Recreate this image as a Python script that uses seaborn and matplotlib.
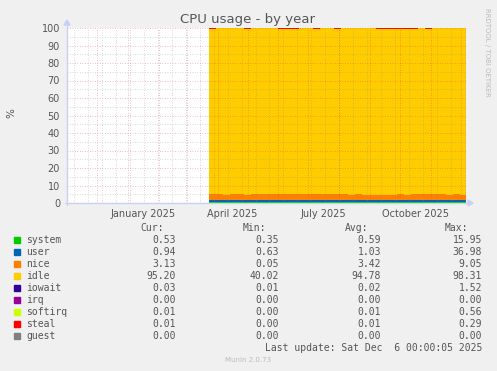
import numpy as np
import pandas as pd
import matplotlib
matplotlib.use("Agg")
import matplotlib.pyplot as plt
from matplotlib.patches import Rectangle
import seaborn as sns

# ---------------- data ----------------
week_starts = pd.date_range("2025-03-23", periods=37, freq="7D")
end_date = pd.Timestamp("2025-12-06")

system = [0.6,0.5,0.5,0.6,0.5,0.5,0.6,0.5,0.5,0.6,0.5,0.5,0.6,0.5,0.5,0.6,0.5,0.5,0.6,0.5,
          0.5,0.6,0.5,0.5,0.6,0.5,0.5,0.6,0.5,0.8,0.5,0.6,0.5,0.5,0.5,0.8,0.5]
user = [1.0,1.0,1.0,1.1,1.0,1.0,1.0,1.0,1.1,1.0,1.0,1.1,1.0,1.0,1.1,1.0,1.0,1.1,1.0,1.0,
        1.0,1.0,1.1,1.0,1.0,1.0,1.1,1.0,1.0,1.1,1.0,1.0,1.1,1.0,1.0,1.1,1.0]
nice = [3.6,3.5,3.3,3.4,3.5,3.1,3.6,3.7,3.5,3.6,3.8,3.7,3.8,3.6,3.7,3.6,3.5,3.4,3.3,3.4,
        3.2,3.3,3.1,3.2,3.0,3.3,3.2,3.4,3.3,3.2,3.6,3.5,3.3,3.4,3.2,3.3,3.1]
idle = [94.2,95.0,95.2,94.9,95.0,94.9,94.8,94.8,94.9,94.8,94.1,94.1,94.0,94.9,94.7,94.4,95.0,95.0,94.6,95.1,
        95.3,95.1,95.3,95.3,94.8,94.6,94.6,94.5,94.7,94.4,94.9,94.5,95.1,95.1,95.3,94.8,95.4]
iowait = [0.0]*37
irq = [0.0]*37
softirq = [0.0]*37
steal = [0.6,0,0,0,0,0.5,0,0,0,0,0.6,0.6,0.6,0,0,0.4,0,0,0.5,0,
         0,0,0,0,0.6,0.6,0.6,0.5,0.5,0.5,0,0.4,0,0,0,0,0]
guest = [0.0]*37

series_names = ["system", "user", "nice", "idle", "iowait", "irq", "softirq", "steal", "guest"]
series_values = [system, user, nice, idle, iowait, irq, softirq, steal, guest]
series_colors = ["#00CC00", "#0066B3", "#FF8000", "#FFCC00", "#330099",
                 "#990099", "#CCFF00", "#FF0000", "#808080"]

cur_vals = ["0.53", "0.94", "3.13", "95.20", "0.03", "0.00", "0.01", "0.01", "0.00"]
min_vals = ["0.35", "0.63", "0.05", "40.02", "0.01", "0.00", "0.00", "0.00", "0.00"]
avg_vals = ["0.59", "1.03", "3.42", "94.78", "0.02", "0.00", "0.01", "0.01", "0.00"]
max_vals = ["15.95", "36.98", "9.05", "98.31", "1.52", "0.00", "0.56", "0.29", "0.00"]

x_labels = ["January 2025", "April 2025", "July 2025", "October 2025"]
x_label_dates = ["2025-01-16", "2025-04-16", "2025-07-16", "2025-10-16"]
y_ticks = list(range(0, 101, 10))

# ---------------- figure ----------------
sns.set_theme(style="white")
plt.rcParams["font.family"] = ["DejaVu Sans"]
W, H = 497, 371
BG = "#F0F0F0"
TXT = "#555555"
fig = plt.figure(figsize=(W / 100, H / 100), dpi=100, facecolor=BG)

L, R, T, B = 67, 466, 28, 203
ax = fig.add_axes([L / W, 1 - B / H, (R - L) / W, (B - T) / H])
ax.set_facecolor("white")

x_start = pd.Timestamp("2024-11-01")
xs = list(week_starts) + [end_date]
base = np.zeros(len(xs))
for name, vals, col in zip(series_names, series_values, series_colors):
    v = np.append(np.array(vals, float), vals[-1])
    top = base + v
    if v.max() > 0:
        ax.fill_between(xs, base, top, step="post", color=col, linewidth=0,
                        antialiased=False, zorder=2)
    base = top

ax.set_xlim(x_start, end_date)
ax.set_ylim(0, 100)

# grid (drawn over data, rrdtool style)
minor_col = (0.55, 0.55, 0.55, 0.45)
major_col = (0.85, 0.25, 0.25, 0.45)
dot = (0, (1, 2))
for yv in range(5, 100, 10):
    ax.axhline(yv, color=minor_col, lw=0.6, ls=dot, zorder=3)
for yv in range(10, 101, 10):
    ax.axhline(yv, color=major_col, lw=0.6, ls=dot, zorder=3)
for d in pd.date_range("2024-11-08", end_date, freq="14D"):
    ax.axvline(d, color=minor_col, lw=0.6, ls=dot, zorder=3)
for d in pd.date_range("2024-12-01", end_date, freq="MS"):
    ax.axvline(d, color=major_col, lw=0.6, ls=dot, zorder=3)

for s in ax.spines.values():
    s.set_visible(False)

ax.set_yticks(y_ticks)
ax.set_yticklabels([str(v) for v in y_ticks], fontsize=7, color=TXT)
ax.set_xticks([pd.Timestamp(d) for d in x_label_dates])
ax.set_xticklabels(x_labels, fontsize=7, color=TXT)
ax.tick_params(axis="both", length=0)
ax.tick_params(axis="x", pad=4)
ax.tick_params(axis="y", pad=5)

# axis lines with arrows
axis_col = "#C8D0F4"
fig.add_artist(plt.Line2D([L / W, L / W], [1 - (B + 2) / H, 1 - 24 / H], color=axis_col, lw=1))
fig.add_artist(plt.Line2D([(L - 2) / W, 470 / W], [1 - B / H, 1 - B / H], color=axis_col, lw=1))
fig.add_artist(plt.Polygon([[(L - 3) / W, 1 - 25 / H], [(L + 3) / W, 1 - 25 / H], [L / W, 1 - 20 / H]],
                           closed=True, color=axis_col, transform=fig.transFigure))
fig.add_artist(plt.Polygon([[468 / W, 1 - (B - 3) / H], [468 / W, 1 - (B + 3) / H], [473 / W, 1 - B / H]],
                           closed=True, color=axis_col, transform=fig.transFigure))

def ftext(x, y, s, **kw):
    fig.text(x / W, 1 - y / H, s, **kw)

ftext(248, 19, "CPU usage - by year", ha="center", va="center", fontsize=9.5, color=TXT)
ftext(11, 113, "%", ha="center", va="center", rotation=90, fontsize=7.5, color=TXT)
ftext(487, 52, "RRDTOOL / TOBI OETIKER", ha="center", va="center", rotation=270,
      fontsize=5, color="#BBBBBB")

mono = dict(family="DejaVu Sans Mono", fontsize=7, color=TXT, va="center")
ftext(164, 228, "Cur:", ha="right", **mono)
ftext(266, 228, "Min:", ha="right", **mono)
ftext(368, 228, "Avg:", ha="right", **mono)
ftext(468, 228, "Max:", ha="right", **mono)

for i, (name, col) in enumerate(zip(series_names, series_colors)):
    y = 240 + 12 * i
    fig.add_artist(Rectangle((14 / W, 1 - (y + 3) / H), 6 / W, 6 / H, color=col,
                             transform=fig.transFigure))
    ftext(26, y, name, ha="left", **mono)
    ftext(176, y, cur_vals[i], ha="right", **mono)
    ftext(279, y, min_vals[i], ha="right", **mono)
    ftext(381, y, avg_vals[i], ha="right", **mono)
    ftext(482, y, max_vals[i], ha="right", **mono)

ftext(482, 348, "Last update: Sat Dec  6 00:00:05 2025", ha="right", **mono)
ftext(248, 360, "Munin 2.0.73", ha="center", va="center", fontsize=5, color="#BBBBBB")

fig.savefig("out.png", dpi=100, facecolor=BG)
